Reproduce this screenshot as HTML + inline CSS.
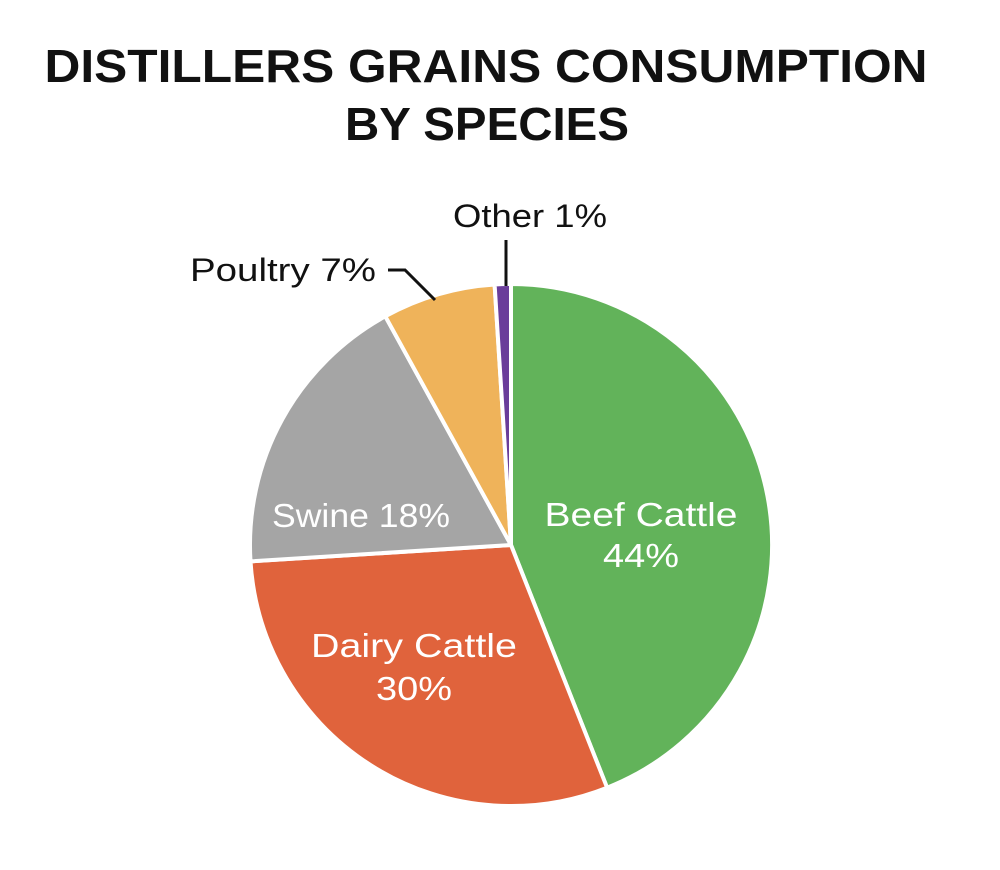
<!DOCTYPE html>
<html><head><style>html,body{margin:0;padding:0;background:#fff}svg{display:block}</style></head>
<body>
<svg width="1000" height="870" viewBox="0 0 1000 870" xmlns="http://www.w3.org/2000/svg" font-family="'Liberation Sans', sans-serif">
<text x="486" y="82" font-size="46" font-weight="bold" text-anchor="middle" textLength="883" lengthAdjust="spacingAndGlyphs" fill="#111">DISTILLERS GRAINS CONSUMPTION</text>
<text x="487" y="140" font-size="46" font-weight="bold" text-anchor="middle" textLength="284" lengthAdjust="spacingAndGlyphs" fill="#111">BY SPECIES</text>
<g stroke="#fff" stroke-width="4" stroke-linejoin="round">
<path d="M511,545 L511,284 A261,261 0 0 1 607.1,787.7 Z" fill="#62b35a"/>
<path d="M511,545 L607.1,787.7 A261,261 0 0 1 250.5,561.4 Z" fill="#e0633c"/>
<path d="M511,545 L250.5,561.4 A261,261 0 0 1 385.3,316.3 Z" fill="#a5a5a5"/>
<path d="M511,545 L385.3,316.3 A261,261 0 0 1 494.6,284.5 Z" fill="#efb35a"/>
<path d="M511,545 L494.6,284.5 A261,261 0 0 1 511,284 Z" fill="#6a3d9a"/>
</g>
<g stroke="#111" stroke-width="3" fill="none">
<line x1="506" y1="240" x2="506" y2="286"/>
<polyline points="388,270 405,270 435,300"/>
</g>
<g font-size="32" fill="#111">
<text x="453" y="227" textLength="154" lengthAdjust="spacingAndGlyphs">Other 1%</text>
<text x="190" y="281" textLength="186" lengthAdjust="spacingAndGlyphs">Poultry 7%</text>
</g>
<g font-size="33" fill="#fff" text-anchor="middle">
<text x="641" y="526" textLength="193" lengthAdjust="spacingAndGlyphs">Beef Cattle</text>
<text x="641" y="567" textLength="76" lengthAdjust="spacingAndGlyphs">44%</text>
<text x="414" y="657" textLength="206" lengthAdjust="spacingAndGlyphs">Dairy Cattle</text>
<text x="414" y="700" textLength="76" lengthAdjust="spacingAndGlyphs">30%</text>
<text x="361" y="527" textLength="178" lengthAdjust="spacingAndGlyphs">Swine 18%</text>
</g>
</svg>
</body></html>
